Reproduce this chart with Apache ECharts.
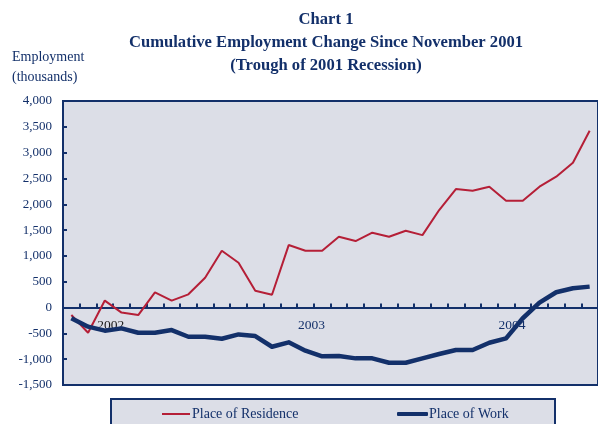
<!DOCTYPE html>
<html>
<head>
<meta charset="utf-8">
<title>Cumulative Employment Change</title>
<script src="https://cdn.jsdelivr.net/npm/echarts@6/dist/echarts.min.js"></script>
<style>
  html, body { margin: 0; padding: 0; background: #fff; }
  #main { width: 598px; height: 424px; }
</style>
</head>
<body>
<div id="main"></div>
<script type="text/javascript">
// months Nov 2001 - Jun 2004
var months = [
  'Nov 2001', 'Dec 2001',
  'Jan 2002', 'Feb 2002', 'Mar 2002', 'Apr 2002', 'May 2002', 'Jun 2002',
  'Jul 2002', 'Aug 2002', 'Sep 2002', 'Oct 2002', 'Nov 2002', 'Dec 2002',
  'Jan 2003', 'Feb 2003', 'Mar 2003', 'Apr 2003', 'May 2003', 'Jun 2003',
  'Jul 2003', 'Aug 2003', 'Sep 2003', 'Oct 2003', 'Nov 2003', 'Dec 2003',
  'Jan 2004', 'Feb 2004', 'Mar 2004', 'Apr 2004', 'May 2004', 'Jun 2004'
];
var yearLabels = ['2002', '2003', '2004'];

// thousands
var residence = [
  -145, -488, 135, -98, -145, 295, 135, 256, 578, 1100, 868, 325, 248, 1210, 1100, 1100,
  1372, 1288, 1449, 1372, 1488, 1403, 1889, 2295, 2263, 2340, 2069, 2069, 2340, 2534, 2805, 3425
];
var work = [
  -207, -370, -448, -403, -488, -488, -436, -565, -565, -604, -520, -552, -759, -674, -836, -945,
  -940, -984, -984, -1069, -1069, -984, -900, -823, -823, -682, -597, -207, 95, 296, 374, 405
];

var navy = '#13306a';
var red = '#b51f37';
var serif = 'Liberation Serif';

// grid: top 101, height 284, y range -1500..4000
var gridTop = 101, gridH = 284, yMin = -1500, yMax = 4000;
// distance of the zero line above the grid bottom
var zeroUp = gridH * (0 - yMin) / (yMax - yMin);

function fmt(v) {
  var s = String(Math.abs(v));
  if (s.length > 3) s = s.slice(0, s.length - 3) + ',' + s.slice(s.length - 3);
  return (v < 0 ? '-' : '') + s;
}

var myChart = echarts.init(document.getElementById('main'));
var option = {
  backgroundColor: '#ffffff',
  animation: false,
  title: {
    text: 'Chart 1\nCumulative Employment Change Since November 2001\n(Trough of 2001 Recession)',
    left: 321,
    top: 3,
    textAlign: 'center',
    textStyle: {
      fontFamily: serif,
      fontWeight: 'bold',
      fontSize: 16.6,
      lineHeight: 23,
      color: navy
    }
  },
  graphic: [
    {
      type: 'text', left: 12, top: 50,
      style: { text: 'Employment', font: '14px "Liberation Serif"', fill: navy }
    },
    {
      type: 'text', left: 12, top: 70,
      style: { text: '(thousands)', font: '14px "Liberation Serif"', fill: navy }
    },
    {
      type: 'rect', z: -1,
      shape: { x: 111, y: 399, width: 444, height: 40 },
      style: { fill: '#dcdee7', stroke: navy, lineWidth: 2 }
    }
  ],
  legend: [
    {
      data: ['Place of Residence'],
      left: 162, top: 407, padding: 0,
      itemWidth: 28, itemHeight: 2, itemGap: 2,
      icon: 'rect',
      textStyle: { fontFamily: serif, fontSize: 14, color: navy, padding: [0, 0, 0, -3] }
    },
    {
      data: ['Place of Work'],
      left: 397, top: 407, padding: 0,
      itemWidth: 31, itemHeight: 4, itemGap: 2,
      icon: 'roundRect',
      textStyle: { fontFamily: serif, fontSize: 14, color: navy, padding: [0, 0, 0, -4] }
    }
  ],
  grid: {
    left: 63, right: -3, top: gridTop, height: gridH,
    show: true,
    backgroundColor: '#dcdee7',
    borderColor: navy,
    borderWidth: 2
  },
  xAxis: {
    type: 'category',
    data: months,
    boundaryGap: true,
    position: 'bottom',
    offset: -zeroUp,
    axisLine: { onZero: false, lineStyle: { color: navy, width: 2 } },
    axisTick: { show: true, inside: true, length: 4, interval: 0, lineStyle: { color: navy, width: 2 } },
    axisLabel: {
      interval: function (i, v) { return v.indexOf('Jan') === 0; },
      formatter: function (v) { return yearLabels[yearLabels.indexOf(v.slice(4))]; },
      margin: 11,
      padding: [0, 0, 0, 12],
      fontFamily: serif,
      fontSize: 13.5,
      color: function (v) { return v.indexOf('2002') >= 0 ? '#1a1a1a' : navy; }
    },
    splitLine: { show: false }
  },
  yAxis: {
    type: 'value',
    min: yMin, max: yMax, interval: 500,
    axisLine: { show: true, onZero: false, lineStyle: { color: navy, width: 2 } },
    axisTick: { show: true, inside: true, length: 4, lineStyle: { color: navy, width: 2 } },
    axisLabel: {
      formatter: fmt,
      margin: 11,
      fontFamily: serif,
      fontSize: 13,
      color: navy
    },
    splitLine: { show: false }
  },
  series: [
    {
      name: 'Place of Residence',
      type: 'line',
      data: residence,
      symbol: 'none',
      lineStyle: { color: red, width: 2 },
      itemStyle: { color: red },
      z: 3
    },
    {
      name: 'Place of Work',
      type: 'line',
      data: work,
      symbol: 'none',
      lineStyle: { color: navy, width: 4.5, join: 'round' },
      itemStyle: { color: navy },
      z: 4
    }
  ]
};
myChart.setOption(option);
</script>
</body>
</html>
